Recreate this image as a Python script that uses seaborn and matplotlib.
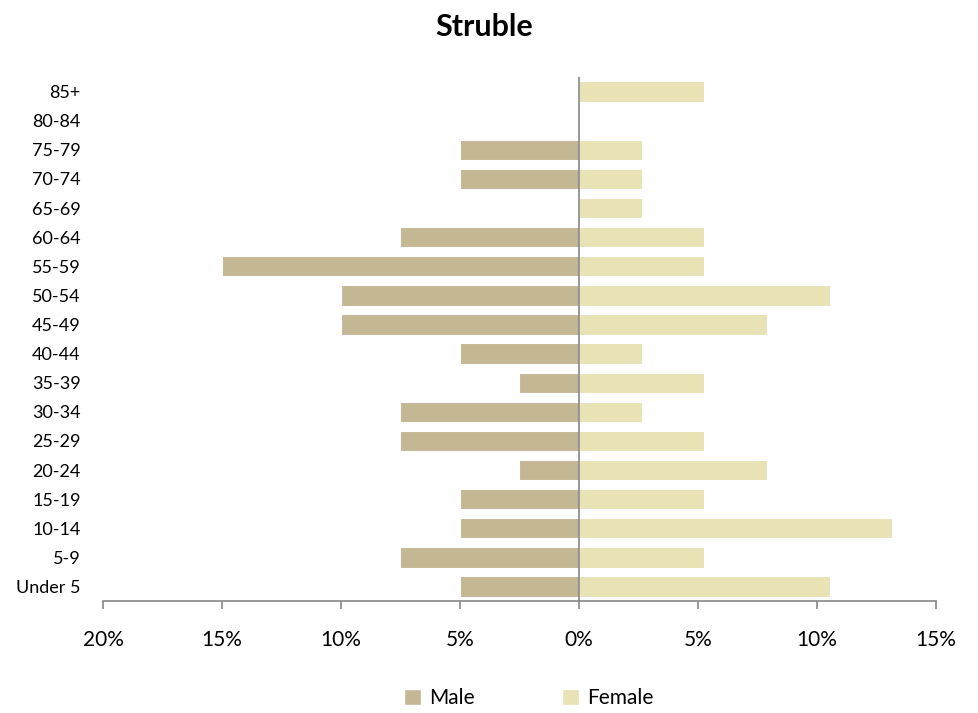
import numpy as np
import pandas as pd
import matplotlib
matplotlib.use("Agg")
import matplotlib.pyplot as plt
import seaborn as sns
from matplotlib.patches import Patch
from matplotlib.ticker import FuncFormatter

# age groups, top to bottom as shown
age_groups = ["85+", "80-84", "75-79", "70-74", "65-69", "60-64", "55-59",
              "50-54", "45-49", "40-44", "35-39", "30-34", "25-29", "20-24",
              "15-19", "10-14", "5-9", "Under 5"]
# shares in percent
male_pct = [0, 0, 5, 5, 0, 7.5, 15, 10, 10, 5, 2.5, 7.5, 7.5, 2.5, 5, 5, 7.5, 5]
female_pct = [5.26, 0, 2.63, 2.63, 2.63, 5.26, 5.26, 10.53, 7.89, 2.63, 5.26,
              2.63, 5.26, 7.89, 5.26, 13.16, 5.26, 10.53]
x_ticks = [-20, -15, -10, -5, 0, 5, 10, 15]

MALE_COLOR = "#C4B794"
FEMALE_COLOR = "#E8E2B5"
AXIS_GRAY = "#888888"

df = pd.DataFrame({
    "age": age_groups * 2,
    "pct": [-v for v in male_pct] + female_pct,
    "sex": ["Male"] * len(age_groups) + ["Female"] * len(age_groups),
})

sns.set_style("white")
plt.rcParams["font.family"] = ["Lato", "DejaVu Sans"]
plt.rcParams["text.color"] = "black"
plt.rcParams["xtick.color"] = "black"
plt.rcParams["ytick.color"] = "black"

fig = plt.figure(figsize=(9.79, 7.13), dpi=100)
ax = fig.add_axes([0.1052, 0.157, 0.8508, 0.735])

sns.barplot(data=df, x="pct", y="age", hue="sex", order=age_groups,
            hue_order=["Male", "Female"], dodge=False, orient="h",
            palette={"Male": MALE_COLOR, "Female": FEMALE_COLOR},
            saturation=1, width=0.7, edgecolor="white", linewidth=0.8,
            ax=ax, legend=False)

ax.axvline(0, color=AXIS_GRAY, lw=1.2, zorder=5)
ax.set_xlim(-20, 15)
ax.set_ylim(len(age_groups) - 0.5, -0.5)
ax.set_xticks(x_ticks)
ax.xaxis.set_major_formatter(FuncFormatter(lambda v, _: f"{abs(v):.0f}%"))
ax.tick_params(axis="x", direction="out", length=6, width=1.2, color=AXIS_GRAY,
               labelcolor="black", labelsize=15, pad=15, bottom=True)
ax.tick_params(axis="y", length=0, labelsize=13, labelcolor="black", pad=16)
ax.set_xlabel("")
ax.set_ylabel("")

for side in ["left", "right", "top"]:
    ax.spines[side].set_visible(False)
ax.spines["bottom"].set_color(AXIS_GRAY)
ax.spines["bottom"].set_linewidth(1.2)

fig.text(0.495, 0.962, "Struble", ha="center", va="center",
         fontsize=22, fontweight="bold", color="black")

handles = [Patch(facecolor=MALE_COLOR, label="Male"),
           Patch(facecolor=FEMALE_COLOR, label="Female")]
fig.legend(handles=handles, loc="center", bbox_to_anchor=(0.54, 0.021),
           ncol=2, frameon=False, fontsize=15, handlelength=0.8,
           handleheight=0.8, handletextpad=0.4, columnspacing=4.2,
           labelcolor="black")

fig.savefig("out.png", dpi=100)
